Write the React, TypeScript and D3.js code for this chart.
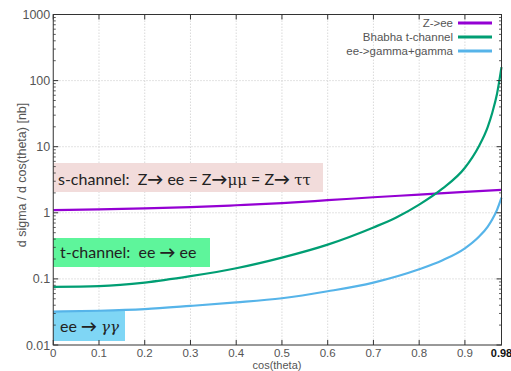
import * as d3 from "d3";

// cos(theta) sample points
const zeeX = [0, 0.1, 0.2, 0.3, 0.4, 0.5, 0.6, 0.7, 0.8, 0.9, 0.98];
const zeeY = [1.1, 1.13, 1.17, 1.22, 1.3, 1.4, 1.55, 1.72, 1.88, 2.07, 2.22];

const bhabhaX = [0, 0.1, 0.2, 0.3, 0.4, 0.5, 0.6, 0.7, 0.75, 0.8, 0.85, 0.9, 0.93, 0.95, 0.96, 0.97, 0.98];
const bhabhaY = [0.076, 0.078, 0.088, 0.11, 0.145, 0.21, 0.33, 0.6, 0.85, 1.33, 2.3, 4.8, 10, 20, 33, 62, 160];

const ggX = [0, 0.1, 0.2, 0.3, 0.4, 0.5, 0.6, 0.7, 0.8, 0.85, 0.9, 0.93, 0.95, 0.96, 0.97, 0.98];
const ggY = [0.032, 0.033, 0.035, 0.039, 0.044, 0.051, 0.065, 0.088, 0.14, 0.19, 0.29, 0.43, 0.62, 0.8, 1.1, 1.7];

const xTicks = [0, 0.1, 0.2, 0.3, 0.4, 0.5, 0.6, 0.7, 0.8, 0.9];
const yTicks = [0.01, 0.1, 1, 10, 100, 1000];
const yTickLabels = ["0.01", "0.1", "1", "10", "100", "1000"];

const seriesNames = ["Z->ee", "Bhabha t-channel", "ee->gamma+gamma"];
const seriesColors = ["#9400d3", "#009e73", "#56b4e9"];

const width = 511;
const height = 371;
const left = 53.25;
const right = 501.5;
const top = 14.5;
const bottom = 345;

const App = () => {
  const xScale = d3.scaleLinear().domain([0, 0.98]).range([left, right]);
  const yScale = d3.scaleLog().domain([0.01, 1000]).range([bottom, top]);

  const lineFunc = d3
    .line<[number, number]>()
    .x((d) => xScale(d[0]))
    .y((d) => yScale(d[1]))
    .curve(d3.curveMonotoneX);

  const series = [
    zeeX.map((x, i) => [x, zeeY[i]] as [number, number]),
    bhabhaX.map((x, i) => [x, bhabhaY[i]] as [number, number]),
    ggX.map((x, i) => [x, ggY[i]] as [number, number]),
  ];

  // minor log ticks 2..9 in each decade
  const minor: number[] = [];
  for (let d = 0; d < 5; d++) {
    for (let m = 2; m <= 9; m++) minor.push(m * yTicks[d]);
  }

  const tickFont = "'Liberation Sans', Arial, sans-serif";
  const boxFont = "Lato, 'Open Sans', sans-serif";

  return (
    <svg
      width={width}
      height={height}
      style={{ position: "absolute", left: 0, top: 0, background: "#fff" }}
    >
      {/* grid */}
      {xTicks.slice(1).map((t) => (
        <line
          key={"gx" + t}
          x1={xScale(t)}
          x2={xScale(t)}
          y1={top}
          y2={bottom}
          stroke="#d0d0d0"
          strokeWidth="0.8"
          strokeDasharray="1.5 1.5"
        />
      ))}
      {yTicks.slice(1, -1).map((t) => (
        <line
          key={"gy" + t}
          x1={left}
          x2={right}
          y1={yScale(t)}
          y2={yScale(t)}
          stroke="#d0d0d0"
          strokeWidth="0.8"
          strokeDasharray="1.5 1.5"
        />
      ))}

      {/* annotation boxes */}
      <rect x={53} y={163} width={270} height={29} fill="#f2dcdb" />
      <text x={58} y={185} fontFamily={boxFont} fontSize="16" fill="#222">
        s-channel:{"\u00a0 "}Z<tspan fontWeight="bold">→</tspan> ee = Z<tspan fontWeight="bold">→</tspan>
        <tspan fontFamily="'DejaVu Serif', serif" fontSize="15">μμ</tspan> = Z<tspan fontWeight="bold">→</tspan>{" "}
        <tspan fontFamily="'DejaVu Serif', serif" fontSize="15">ττ</tspan>
      </text>
      <rect x={53} y={238} width={157} height={29} fill="#5ef59b" />
      <text x={60} y={258} fontFamily={boxFont} fontSize="16" fill="#222">
        t-channel:{"\u00a0 "}ee <tspan fontWeight="bold">→</tspan> ee
      </text>
      <rect x={53} y={311} width={72} height={30} fill="#7fd6f5" />
      <text x={60} y={332} fontFamily={boxFont} fontSize="16" fill="#222">
        ee <tspan fontWeight="bold">→</tspan>{" "}
        <tspan fontFamily="'DejaVu Serif', serif" fontStyle="italic" fontSize="15">γγ</tspan>
      </text>

      {/* curves */}
      {series.map((s, i) => (
        <path
          key={"s" + i}
          d={lineFunc(s) ?? ""}
          fill="none"
          stroke={seriesColors[i]}
          strokeWidth="2.2"
        />
      ))}

      {/* frame */}
      <rect x={left} y={top} width={right - left} height={bottom - top} fill="none" stroke="#333" strokeWidth="1" />

      {/* x ticks */}
      {xTicks.map((t) => (
        <g key={"xt" + t}>
          <line x1={xScale(t)} x2={xScale(t)} y1={bottom} y2={bottom - 5} stroke="#333" />
          <line x1={xScale(t)} x2={xScale(t)} y1={top} y2={top + 5} stroke="#333" />
          <text
            x={xScale(t)}
            y={356.5}
            textAnchor="middle"
            fontFamily={tickFont}
            fontSize="11.5"
            fill="#555"
          >
            {t === 0 ? "0" : t.toFixed(1)}
          </text>
        </g>
      ))}
      <text x={right} y={356.5} textAnchor="middle" fontFamily={tickFont} fontSize="11" fontWeight="bold" fill="#111">
        0.98
      </text>

      {/* y ticks */}
      {yTicks.map((t, i) => (
        <g key={"yt" + t}>
          <line x1={left} x2={left + 5} y1={yScale(t)} y2={yScale(t)} stroke="#333" />
          <line x1={right} x2={right - 5} y1={yScale(t)} y2={yScale(t)} stroke="#333" />
          <text
            x={left - 3}
            y={yScale(t) + 4.5}
            textAnchor="end"
            fontFamily={tickFont}
            fontSize="12.5"
            fill="#555"
          >
            {yTickLabels[i]}
          </text>
        </g>
      ))}
      {minor.map((t) => (
        <g key={"ym" + t}>
          <line x1={left} x2={left + 2.5} y1={yScale(t)} y2={yScale(t)} stroke="#333" strokeWidth="0.8" />
          <line x1={right} x2={right - 2.5} y1={yScale(t)} y2={yScale(t)} stroke="#333" strokeWidth="0.8" />
        </g>
      ))}

      {/* axis labels */}
      <text x={277} y={368.5} textAnchor="middle" fontFamily={tickFont} fontSize="11" fill="#555">
        cos(theta)
      </text>
      <text
        transform="translate(26, 175) rotate(-90)"
        textAnchor="middle"
        fontFamily={tickFont}
        fontSize="12.5"
        fill="#555"
      >
        d sigma / d cos(theta) [nb]
      </text>

      {/* legend */}
      {seriesNames.map((n, i) => (
        <g key={"lg" + i}>
          <text
            x={453}
            y={27 + i * 14}
            textAnchor="end"
            fontFamily={tickFont}
            fontSize="11.5"
            fill="#555"
          >
            {n}
          </text>
          <line x1={458} x2={492} y1={23 + i * 14} y2={23 + i * 14} stroke={seriesColors[i]} strokeWidth="3" />
        </g>
      ))}
    </svg>
  );
};

export default App;
